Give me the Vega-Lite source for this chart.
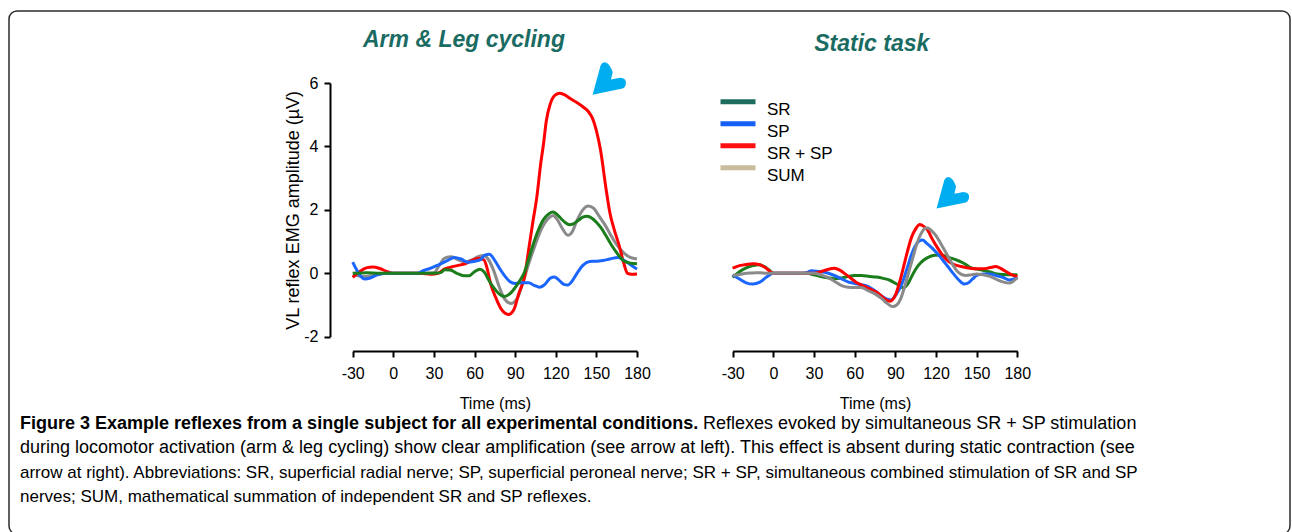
{
  "$schema": "https://vega.github.io/schema/vega-lite/v6.json",
  "width": 1281,
  "height": 523,
  "autosize": {"type": "none"},
  "padding": {"left": 9, "top": 11, "right": 2, "bottom": -2},
  "background": "white",
  "config": {
    "view": {"stroke": "#2b2b2b", "strokeWidth": 1.5, "cornerRadius": 8},
    "axis": {
      "domainColor": "#000", "domainWidth": 2, "tickColor": "#000", "tickWidth": 2, "tickSize": 6,
      "labelColor": "#000", "labelFont": "Liberation Sans", "labelFontSize": 16, "labelPadding": 8,
      "titleFont": "Liberation Sans", "titleFontSize": 16, "titleFontWeight": "normal", "titleColor": "#000",
      "grid": false, "labelFlush": false, "labelOverlap": false, "labelExpr": "'' + datum.value"
    },
    "text": {"font": "Liberation Sans"}
  },
  "datasets": {
    "arm": [
      {"t": -30, "v": -0.05, "s": "SUM"}, {"t": -25, "v": -0.09, "s": "SUM"}, {"t": -20, "v": -0.1, "s": "SUM"}, {"t": -15, "v": -0.07, "s": "SUM"}, {"t": -10, "v": -0.03, "s": "SUM"}, {"t": -5, "v": 0, "s": "SUM"}, {"t": 0, "v": 0, "s": "SUM"}, {"t": 10, "v": 0, "s": "SUM"}, {"t": 20, "v": 0, "s": "SUM"}, {"t": 30, "v": 0.02, "s": "SUM"}, {"t": 34, "v": 0.25, "s": "SUM"}, {"t": 38, "v": 0.48, "s": "SUM"}, {"t": 43, "v": 0.52, "s": "SUM"}, {"t": 48, "v": 0.42, "s": "SUM"}, {"t": 53, "v": 0.36, "s": "SUM"}, {"t": 58, "v": 0.42, "s": "SUM"}, {"t": 63, "v": 0.53, "s": "SUM"}, {"t": 67, "v": 0.56, "s": "SUM"}, {"t": 70, "v": 0.45, "s": "SUM"}, {"t": 74, "v": 0.1, "s": "SUM"}, {"t": 78, "v": -0.4, "s": "SUM"}, {"t": 82, "v": -0.8, "s": "SUM"}, {"t": 87, "v": -0.95, "s": "SUM"}, {"t": 92, "v": -0.75, "s": "SUM"}, {"t": 96, "v": -0.25, "s": "SUM"}, {"t": 100, "v": 0.3, "s": "SUM"}, {"t": 104, "v": 0.8, "s": "SUM"}, {"t": 110, "v": 1.45, "s": "SUM"}, {"t": 115, "v": 1.75, "s": "SUM"}, {"t": 118, "v": 1.82, "s": "SUM"}, {"t": 121, "v": 1.7, "s": "SUM"}, {"t": 125, "v": 1.4, "s": "SUM"}, {"t": 129, "v": 1.2, "s": "SUM"}, {"t": 132, "v": 1.3, "s": "SUM"}, {"t": 136, "v": 1.7, "s": "SUM"}, {"t": 140, "v": 2.0, "s": "SUM"}, {"t": 144, "v": 2.12, "s": "SUM"}, {"t": 148, "v": 2.05, "s": "SUM"}, {"t": 152, "v": 1.8, "s": "SUM"}, {"t": 156, "v": 1.55, "s": "SUM"}, {"t": 160, "v": 1.25, "s": "SUM"}, {"t": 165, "v": 0.9, "s": "SUM"}, {"t": 170, "v": 0.65, "s": "SUM"}, {"t": 175, "v": 0.5, "s": "SUM"}, {"t": 180, "v": 0.45, "s": "SUM"},

      {"t": -30, "v": -0.13, "s": "SR + SP"}, {"t": -25, "v": 0.05, "s": "SR + SP"}, {"t": -20, "v": 0.17, "s": "SR + SP"}, {"t": -15, "v": 0.2, "s": "SR + SP"}, {"t": -10, "v": 0.15, "s": "SR + SP"}, {"t": -5, "v": 0.06, "s": "SR + SP"}, {"t": 0, "v": 0, "s": "SR + SP"}, {"t": 10, "v": 0, "s": "SR + SP"}, {"t": 20, "v": 0, "s": "SR + SP"}, {"t": 28, "v": -0.03, "s": "SR + SP"}, {"t": 33, "v": 0, "s": "SR + SP"}, {"t": 38, "v": 0.14, "s": "SR + SP"}, {"t": 43, "v": 0.2, "s": "SR + SP"}, {"t": 48, "v": 0.25, "s": "SR + SP"}, {"t": 53, "v": 0.3, "s": "SR + SP"}, {"t": 58, "v": 0.4, "s": "SR + SP"}, {"t": 63, "v": 0.47, "s": "SR + SP"}, {"t": 67, "v": 0.42, "s": "SR + SP"}, {"t": 69, "v": 0.2, "s": "SR + SP"}, {"t": 72, "v": -0.35, "s": "SR + SP"}, {"t": 76, "v": -0.8, "s": "SR + SP"}, {"t": 80, "v": -1.15, "s": "SR + SP"}, {"t": 85, "v": -1.3, "s": "SR + SP"}, {"t": 89, "v": -1.15, "s": "SR + SP"}, {"t": 93, "v": -0.6, "s": "SR + SP"}, {"t": 97, "v": -0.1, "s": "SR + SP"}, {"t": 100, "v": 0.75, "s": "SR + SP"}, {"t": 103, "v": 1.6, "s": "SR + SP"}, {"t": 106, "v": 2.4, "s": "SR + SP"}, {"t": 109, "v": 3.5, "s": "SR + SP"}, {"t": 111, "v": 4.1, "s": "SR + SP"}, {"t": 113, "v": 4.8, "s": "SR + SP"}, {"t": 116, "v": 5.35, "s": "SR + SP"}, {"t": 119.5, "v": 5.62, "s": "SR + SP"}, {"t": 123, "v": 5.68, "s": "SR + SP"}, {"t": 127, "v": 5.62, "s": "SR + SP"}, {"t": 131, "v": 5.5, "s": "SR + SP"}, {"t": 135, "v": 5.4, "s": "SR + SP"}, {"t": 140, "v": 5.25, "s": "SR + SP"}, {"t": 144, "v": 5.1, "s": "SR + SP"}, {"t": 147, "v": 4.9, "s": "SR + SP"}, {"t": 150, "v": 4.5, "s": "SR + SP"}, {"t": 153, "v": 3.9, "s": "SR + SP"}, {"t": 157, "v": 2.7, "s": "SR + SP"}, {"t": 160, "v": 1.9, "s": "SR + SP"}, {"t": 163, "v": 1.4, "s": "SR + SP"}, {"t": 167, "v": 0.85, "s": "SR + SP"}, {"t": 170, "v": 0.35, "s": "SR + SP"}, {"t": 173, "v": 0.0, "s": "SR + SP"}, {"t": 176, "v": -0.03, "s": "SR + SP"}, {"t": 180, "v": -0.02, "s": "SR + SP"},

      {"t": -30, "v": 0.35, "s": "SP"}, {"t": -27, "v": 0.1, "s": "SP"}, {"t": -24, "v": -0.1, "s": "SP"}, {"t": -21, "v": -0.18, "s": "SP"}, {"t": -17, "v": -0.15, "s": "SP"}, {"t": -12, "v": -0.05, "s": "SP"}, {"t": -6, "v": 0, "s": "SP"}, {"t": 0, "v": 0, "s": "SP"}, {"t": 10, "v": 0, "s": "SP"}, {"t": 18, "v": 0, "s": "SP"}, {"t": 22, "v": 0.08, "s": "SP"}, {"t": 27, "v": 0.15, "s": "SP"}, {"t": 33, "v": 0.26, "s": "SP"}, {"t": 40, "v": 0.4, "s": "SP"}, {"t": 45, "v": 0.5, "s": "SP"}, {"t": 50, "v": 0.45, "s": "SP"}, {"t": 55, "v": 0.35, "s": "SP"}, {"t": 60, "v": 0.38, "s": "SP"}, {"t": 64, "v": 0.42, "s": "SP"}, {"t": 68, "v": 0.58, "s": "SP"}, {"t": 71, "v": 0.6, "s": "SP"}, {"t": 75, "v": 0.4, "s": "SP"}, {"t": 79, "v": 0.12, "s": "SP"}, {"t": 83, "v": -0.12, "s": "SP"}, {"t": 86, "v": -0.26, "s": "SP"}, {"t": 90, "v": -0.32, "s": "SP"}, {"t": 95, "v": -0.3, "s": "SP"}, {"t": 100, "v": -0.3, "s": "SP"}, {"t": 104, "v": -0.38, "s": "SP"}, {"t": 108, "v": -0.44, "s": "SP"}, {"t": 112, "v": -0.35, "s": "SP"}, {"t": 116, "v": -0.15, "s": "SP"}, {"t": 119, "v": -0.12, "s": "SP"}, {"t": 122, "v": -0.2, "s": "SP"}, {"t": 126, "v": -0.35, "s": "SP"}, {"t": 129, "v": -0.37, "s": "SP"}, {"t": 132, "v": -0.25, "s": "SP"}, {"t": 136, "v": 0.02, "s": "SP"}, {"t": 140, "v": 0.25, "s": "SP"}, {"t": 145, "v": 0.37, "s": "SP"}, {"t": 150, "v": 0.38, "s": "SP"}, {"t": 155, "v": 0.4, "s": "SP"}, {"t": 160, "v": 0.45, "s": "SP"}, {"t": 166, "v": 0.5, "s": "SP"}, {"t": 170, "v": 0.42, "s": "SP"}, {"t": 175, "v": 0.28, "s": "SP"}, {"t": 180, "v": 0.13, "s": "SP"},

      {"t": -30, "v": 0, "s": "SR"}, {"t": -20, "v": 0.02, "s": "SR"}, {"t": -10, "v": 0, "s": "SR"}, {"t": 0, "v": 0, "s": "SR"}, {"t": 10, "v": 0, "s": "SR"}, {"t": 20, "v": 0, "s": "SR"}, {"t": 30, "v": 0, "s": "SR"}, {"t": 35, "v": 0.02, "s": "SR"}, {"t": 38, "v": 0.11, "s": "SR"}, {"t": 42, "v": 0.1, "s": "SR"}, {"t": 47, "v": 0, "s": "SR"}, {"t": 52, "v": -0.08, "s": "SR"}, {"t": 56, "v": -0.08, "s": "SR"}, {"t": 60, "v": 0.05, "s": "SR"}, {"t": 64, "v": 0.13, "s": "SR"}, {"t": 67, "v": 0.05, "s": "SR"}, {"t": 71, "v": -0.25, "s": "SR"}, {"t": 75, "v": -0.5, "s": "SR"}, {"t": 79, "v": -0.68, "s": "SR"}, {"t": 82, "v": -0.73, "s": "SR"}, {"t": 86, "v": -0.65, "s": "SR"}, {"t": 90, "v": -0.45, "s": "SR"}, {"t": 94, "v": -0.2, "s": "SR"}, {"t": 97, "v": 0.05, "s": "SR"}, {"t": 100, "v": 0.45, "s": "SR"}, {"t": 103, "v": 0.87, "s": "SR"}, {"t": 107, "v": 1.35, "s": "SR"}, {"t": 111, "v": 1.7, "s": "SR"}, {"t": 115, "v": 1.88, "s": "SR"}, {"t": 118, "v": 1.93, "s": "SR"}, {"t": 121, "v": 1.85, "s": "SR"}, {"t": 124, "v": 1.72, "s": "SR"}, {"t": 127, "v": 1.6, "s": "SR"}, {"t": 130, "v": 1.53, "s": "SR"}, {"t": 133, "v": 1.56, "s": "SR"}, {"t": 137, "v": 1.68, "s": "SR"}, {"t": 140, "v": 1.77, "s": "SR"}, {"t": 143, "v": 1.8, "s": "SR"}, {"t": 147, "v": 1.73, "s": "SR"}, {"t": 150, "v": 1.61, "s": "SR"}, {"t": 154, "v": 1.4, "s": "SR"}, {"t": 157, "v": 1.19, "s": "SR"}, {"t": 161, "v": 0.9, "s": "SR"}, {"t": 165, "v": 0.65, "s": "SR"}, {"t": 170, "v": 0.4, "s": "SR"}, {"t": 175, "v": 0.32, "s": "SR"}, {"t": 180, "v": 0.3, "s": "SR"}
    ],
    "static": [
      {"t": -30, "v": -0.13, "s": "SR"}, {"t": -25, "v": 0.05, "s": "SR"}, {"t": -20, "v": 0.17, "s": "SR"}, {"t": -15, "v": 0.24, "s": "SR"}, {"t": -11, "v": 0.27, "s": "SR"}, {"t": -7, "v": 0.22, "s": "SR"}, {"t": -3, "v": 0.1, "s": "SR"}, {"t": 0, "v": 0, "s": "SR"}, {"t": 10, "v": 0, "s": "SR"}, {"t": 20, "v": 0, "s": "SR"}, {"t": 25, "v": 0, "s": "SR"}, {"t": 30, "v": -0.05, "s": "SR"}, {"t": 35, "v": -0.1, "s": "SR"}, {"t": 40, "v": -0.14, "s": "SR"}, {"t": 45, "v": -0.17, "s": "SR"}, {"t": 50, "v": -0.15, "s": "SR"}, {"t": 55, "v": -0.1, "s": "SR"}, {"t": 60, "v": -0.07, "s": "SR"}, {"t": 65, "v": -0.07, "s": "SR"}, {"t": 71, "v": -0.1, "s": "SR"}, {"t": 76, "v": -0.12, "s": "SR"}, {"t": 81, "v": -0.16, "s": "SR"}, {"t": 86, "v": -0.22, "s": "SR"}, {"t": 91, "v": -0.34, "s": "SR"}, {"t": 96, "v": -0.46, "s": "SR"}, {"t": 99, "v": -0.35, "s": "SR"}, {"t": 103, "v": -0.02, "s": "SR"}, {"t": 107, "v": 0.25, "s": "SR"}, {"t": 111, "v": 0.42, "s": "SR"}, {"t": 115, "v": 0.52, "s": "SR"}, {"t": 119, "v": 0.57, "s": "SR"}, {"t": 123, "v": 0.58, "s": "SR"}, {"t": 127, "v": 0.54, "s": "SR"}, {"t": 131, "v": 0.48, "s": "SR"}, {"t": 135, "v": 0.42, "s": "SR"}, {"t": 138, "v": 0.37, "s": "SR"}, {"t": 142, "v": 0.28, "s": "SR"}, {"t": 145, "v": 0.19, "s": "SR"}, {"t": 150, "v": 0.13, "s": "SR"}, {"t": 155, "v": 0.09, "s": "SR"}, {"t": 160, "v": 0.04, "s": "SR"}, {"t": 165, "v": -0.02, "s": "SR"}, {"t": 170, "v": -0.04, "s": "SR"}, {"t": 175, "v": -0.05, "s": "SR"}, {"t": 180, "v": -0.05, "s": "SR"},

      {"t": -30, "v": -0.05, "s": "SP"}, {"t": -25, "v": -0.18, "s": "SP"}, {"t": -20, "v": -0.3, "s": "SP"}, {"t": -15, "v": -0.34, "s": "SP"}, {"t": -10, "v": -0.28, "s": "SP"}, {"t": -5, "v": -0.12, "s": "SP"}, {"t": 0, "v": 0, "s": "SP"}, {"t": 10, "v": 0, "s": "SP"}, {"t": 20, "v": 0, "s": "SP"}, {"t": 25, "v": 0.03, "s": "SP"}, {"t": 28, "v": 0.08, "s": "SP"}, {"t": 33, "v": 0.06, "s": "SP"}, {"t": 38, "v": 0.03, "s": "SP"}, {"t": 45, "v": -0.07, "s": "SP"}, {"t": 50, "v": -0.17, "s": "SP"}, {"t": 55, "v": -0.27, "s": "SP"}, {"t": 60, "v": -0.32, "s": "SP"}, {"t": 65, "v": -0.36, "s": "SP"}, {"t": 70, "v": -0.42, "s": "SP"}, {"t": 75, "v": -0.55, "s": "SP"}, {"t": 80, "v": -0.72, "s": "SP"}, {"t": 84, "v": -0.82, "s": "SP"}, {"t": 87, "v": -0.84, "s": "SP"}, {"t": 90, "v": -0.7, "s": "SP"}, {"t": 93, "v": -0.5, "s": "SP"}, {"t": 96, "v": -0.2, "s": "SP"}, {"t": 99, "v": 0.2, "s": "SP"}, {"t": 102, "v": 0.6, "s": "SP"}, {"t": 105, "v": 0.88, "s": "SP"}, {"t": 108, "v": 1.03, "s": "SP"}, {"t": 110, "v": 1.05, "s": "SP"}, {"t": 113, "v": 0.95, "s": "SP"}, {"t": 117, "v": 0.8, "s": "SP"}, {"t": 121, "v": 0.62, "s": "SP"}, {"t": 125, "v": 0.42, "s": "SP"}, {"t": 129, "v": 0.2, "s": "SP"}, {"t": 133, "v": -0.02, "s": "SP"}, {"t": 137, "v": -0.22, "s": "SP"}, {"t": 141, "v": -0.34, "s": "SP"}, {"t": 144, "v": -0.3, "s": "SP"}, {"t": 147, "v": -0.18, "s": "SP"}, {"t": 150, "v": -0.07, "s": "SP"}, {"t": 155, "v": -0.02, "s": "SP"}, {"t": 160, "v": -0.02, "s": "SP"}, {"t": 165, "v": -0.08, "s": "SP"}, {"t": 170, "v": -0.14, "s": "SP"}, {"t": 174, "v": -0.21, "s": "SP"}, {"t": 177, "v": -0.19, "s": "SP"}, {"t": 180, "v": -0.13, "s": "SP"},

      {"t": -30, "v": 0.16, "s": "SR + SP"}, {"t": -25, "v": 0.24, "s": "SR + SP"}, {"t": -20, "v": 0.28, "s": "SR + SP"}, {"t": -15, "v": 0.3, "s": "SR + SP"}, {"t": -10, "v": 0.27, "s": "SR + SP"}, {"t": -5, "v": 0.15, "s": "SR + SP"}, {"t": -2, "v": 0.04, "s": "SR + SP"}, {"t": 0, "v": 0, "s": "SR + SP"}, {"t": 10, "v": 0, "s": "SR + SP"}, {"t": 20, "v": 0, "s": "SR + SP"}, {"t": 30, "v": 0, "s": "SR + SP"}, {"t": 35, "v": 0.05, "s": "SR + SP"}, {"t": 40, "v": 0.12, "s": "SR + SP"}, {"t": 45, "v": 0.16, "s": "SR + SP"}, {"t": 49, "v": 0.1, "s": "SR + SP"}, {"t": 53, "v": -0.02, "s": "SR + SP"}, {"t": 57, "v": -0.15, "s": "SR + SP"}, {"t": 61, "v": -0.28, "s": "SR + SP"}, {"t": 65, "v": -0.37, "s": "SR + SP"}, {"t": 69, "v": -0.45, "s": "SR + SP"}, {"t": 74, "v": -0.55, "s": "SR + SP"}, {"t": 78, "v": -0.65, "s": "SR + SP"}, {"t": 82, "v": -0.8, "s": "SR + SP"}, {"t": 86, "v": -0.88, "s": "SR + SP"}, {"t": 90, "v": -0.7, "s": "SR + SP"}, {"t": 93, "v": -0.3, "s": "SR + SP"}, {"t": 96, "v": 0.19, "s": "SR + SP"}, {"t": 99, "v": 0.7, "s": "SR + SP"}, {"t": 102, "v": 1.14, "s": "SR + SP"}, {"t": 105, "v": 1.4, "s": "SR + SP"}, {"t": 108, "v": 1.54, "s": "SR + SP"}, {"t": 111, "v": 1.48, "s": "SR + SP"}, {"t": 114, "v": 1.35, "s": "SR + SP"}, {"t": 117, "v": 1.1, "s": "SR + SP"}, {"t": 120, "v": 0.88, "s": "SR + SP"}, {"t": 124, "v": 0.62, "s": "SR + SP"}, {"t": 128, "v": 0.42, "s": "SR + SP"}, {"t": 132, "v": 0.3, "s": "SR + SP"}, {"t": 136, "v": 0.24, "s": "SR + SP"}, {"t": 140, "v": 0.2, "s": "SR + SP"}, {"t": 145, "v": 0.16, "s": "SR + SP"}, {"t": 150, "v": 0.14, "s": "SR + SP"}, {"t": 155, "v": 0.14, "s": "SR + SP"}, {"t": 160, "v": 0.18, "s": "SR + SP"}, {"t": 164, "v": 0.21, "s": "SR + SP"}, {"t": 167, "v": 0.17, "s": "SR + SP"}, {"t": 171, "v": 0.07, "s": "SR + SP"}, {"t": 176, "v": -0.05, "s": "SR + SP"}, {"t": 180, "v": -0.1, "s": "SR + SP"},

      {"t": -30, "v": -0.07, "s": "SUM"}, {"t": -25, "v": -0.04, "s": "SUM"}, {"t": -20, "v": 0, "s": "SUM"}, {"t": -15, "v": 0.01, "s": "SUM"}, {"t": -10, "v": 0.02, "s": "SUM"}, {"t": -5, "v": 0, "s": "SUM"}, {"t": 0, "v": 0, "s": "SUM"}, {"t": 10, "v": 0, "s": "SUM"}, {"t": 20, "v": 0, "s": "SUM"}, {"t": 30, "v": 0, "s": "SUM"}, {"t": 35, "v": -0.05, "s": "SUM"}, {"t": 40, "v": -0.13, "s": "SUM"}, {"t": 45, "v": -0.25, "s": "SUM"}, {"t": 50, "v": -0.38, "s": "SUM"}, {"t": 55, "v": -0.44, "s": "SUM"}, {"t": 60, "v": -0.45, "s": "SUM"}, {"t": 65, "v": -0.45, "s": "SUM"}, {"t": 70, "v": -0.55, "s": "SUM"}, {"t": 75, "v": -0.65, "s": "SUM"}, {"t": 80, "v": -0.8, "s": "SUM"}, {"t": 84, "v": -0.95, "s": "SUM"}, {"t": 88, "v": -1.05, "s": "SUM"}, {"t": 91, "v": -1.0, "s": "SUM"}, {"t": 94, "v": -0.8, "s": "SUM"}, {"t": 97, "v": -0.4, "s": "SUM"}, {"t": 100, "v": 0.05, "s": "SUM"}, {"t": 103, "v": 0.5, "s": "SUM"}, {"t": 106, "v": 0.95, "s": "SUM"}, {"t": 109, "v": 1.25, "s": "SUM"}, {"t": 112, "v": 1.42, "s": "SUM"}, {"t": 114, "v": 1.43, "s": "SUM"}, {"t": 117, "v": 1.33, "s": "SUM"}, {"t": 120, "v": 1.19, "s": "SUM"}, {"t": 124, "v": 0.9, "s": "SUM"}, {"t": 128, "v": 0.6, "s": "SUM"}, {"t": 132, "v": 0.3, "s": "SUM"}, {"t": 135, "v": 0.1, "s": "SUM"}, {"t": 138, "v": -0.02, "s": "SUM"}, {"t": 142, "v": -0.07, "s": "SUM"}, {"t": 146, "v": -0.05, "s": "SUM"}, {"t": 150, "v": -0.02, "s": "SUM"}, {"t": 155, "v": -0.05, "s": "SUM"}, {"t": 160, "v": -0.1, "s": "SUM"}, {"t": 165, "v": -0.2, "s": "SUM"}, {"t": 170, "v": -0.28, "s": "SUM"}, {"t": 174, "v": -0.31, "s": "SUM"}, {"t": 177, "v": -0.25, "s": "SUM"}, {"t": 180, "v": -0.14, "s": "SUM"}
    ],
    "caption": [
      {"line": 1, "part": "bold", "text": "Figure 3 Example reflexes from a single subject for all experimental conditions."},
      {"line": 1, "part": "lead", "text": "Reflexes evoked by simultaneous SR + SP stimulation"},
      {"line": 2, "part": "body", "text": "during locomotor activation (arm & leg cycling) show clear amplification (see arrow at left). This effect is absent during static contraction (see"},
      {"line": 3, "part": "body", "text": "arrow at right). Abbreviations: SR, superficial radial nerve; SP, superficial peroneal nerve; SR + SP, simultaneous combined stimulation of SR and SP"},
      {"line": 4, "part": "body", "text": "nerves; SUM, mathematical summation of independent SR and SP reflexes."}
    ],
    "titles": [
      {"panel": "arm", "label": "Arm & Leg cycling"},
      {"panel": "static", "label": "Static task"}
    ]
  },
  "layer": [
    {
      "data": {"name": "arm"},
      "mark": {"type": "line", "strokeWidth": 3, "interpolate": "monotone"},
      "encoding": {
        "x": {"field": "t", "type": "quantitative", "scale": {"domain": [-30, 180], "range": [343.7, 628], "nice": false, "zero": false},
              "axis": {"values": [-30, 0, 30, 60, 90, 120, 150, 180], "title": "Time (ms)", "offset": -183, "titlePadding": 14}},
        "y": {"field": "v", "type": "quantitative", "scale": {"domain": [-2, 6], "range": [325.7, 72], "nice": false, "zero": false},
              "axis": {"values": [-2, 0, 2, 4, 6], "title": "VL reflex EMG amplitude (µV)", "titleFontSize": 18, "offset": -321, "titlePadding": 1, "labelPadding": 6}},
        "stroke": {"field": "s", "type": "nominal", "sort": null,
                   "scale": {"domain": ["SUM", "SR + SP", "SP", "SR"], "range": ["#8a8a8a", "#ff0000", "#1a66ff", "#1b7d1b"]},
                   "legend": null}
      }
    },
    {
      "data": {"name": "static"},
      "mark": {"type": "line", "strokeWidth": 1.5, "interpolate": "monotone"},
      "encoding": {
        "x": {"field": "t", "type": "quantitative", "scale": {"domain": [-30, 180], "range": [723.7, 1008.3], "nice": false, "zero": false}, "axis": null},
        "y": {"field": "v", "type": "quantitative", "scale": {"domain": [-2, 6], "range": [325.7, 72], "nice": false, "zero": false}, "axis": null},
        "color": {"field": "s", "type": "nominal", "sort": null,
                  "scale": {"domain": ["SR", "SP", "SR + SP", "SUM"], "range": ["#1e6b5f", "#1660f5", "#ff1010", "#c9bc9c"]},
                  "legend": {"title": null, "orient": "none", "legendX": 709, "legendY": 85.2, "symbolType": "stroke", "symbolSize": 1225, "symbolStrokeWidth": 5, "clipHeight": 11, "rowPadding": 0, "padding": 0, "labelFont": "Liberation Sans", "labelFontSize": 17, "labelColor": "#000", "labelBaseline": "top", "labelOffset": 9}}
      }
    },
    {
      "data": {"name": "static"},
      "mark": {"type": "line", "strokeWidth": 3, "interpolate": "monotone"},
      "encoding": {
        "x": {"field": "t", "type": "quantitative", "scale": {"domain": [-30, 180], "range": [723.7, 1008.3], "nice": false, "zero": false},
              "axis": {"orient": "bottom", "values": [-30, 0, 30, 60, 90, 120, 150, 180], "title": "Time (ms)", "offset": -183, "titlePadding": 14}},
        "y": {"field": "v", "type": "quantitative", "scale": {"domain": [-2, 6], "range": [325.7, 72], "nice": false, "zero": false}, "axis": null},
        "stroke": {"field": "s", "type": "nominal", "sort": null, "legend": null}
      }
    },
    {
      "data": {"name": "titles"},
      "transform": [{"filter": "datum.panel == 'arm'"}],
      "mark": {"type": "text", "fontSize": 23, "fontWeight": "bold", "fontStyle": "italic", "color": "#1a6b62", "align": "center", "baseline": "alphabetic"},
      "encoding": {
        "x": {"datum": 52.2, "type": "quantitative", "scale": {"domain": [-30, 180], "range": [343.7, 628], "nice": false, "zero": false}, "axis": null},
        "y": {"datum": 7.15, "type": "quantitative", "scale": {"domain": [-2, 6], "range": [325.7, 72], "nice": false, "zero": false}, "axis": null},
        "text": {"field": "label"}
      }
    },
    {
      "data": {"name": "titles"},
      "transform": [{"filter": "datum.panel == 'static'"}],
      "mark": {"type": "text", "fontSize": 23, "fontWeight": "bold", "fontStyle": "italic", "color": "#1a6b62", "align": "center", "baseline": "alphabetic"},
      "encoding": {
        "x": {"datum": 72.6, "type": "quantitative", "scale": {"domain": [-30, 180], "range": [723.7, 1008.3], "nice": false, "zero": false}, "axis": null},
        "y": {"datum": 7.0, "type": "quantitative", "scale": {"domain": [-2, 6], "range": [325.7, 72], "nice": false, "zero": false}, "axis": null},
        "text": {"field": "label"}
      }
    },
    {
      "data": {"name": "titles"},
      "transform": [{"filter": "datum.panel == 'arm'"}],
      "mark": {"type": "point", "shape": "M -0.94 0.88 L -0.47 -0.84 Q -0.35 -1.1 -0.12 -1.0 Q 0.08 -0.9 0.24 -0.45 L 0.14 -0.02 L 0.67 -0.12 Q 1.05 -0.1 1.02 0.2 Q 1.0 0.45 0.82 0.51 Z", "size": 1156, "filled": true, "color": "#00aeef", "opacity": 1, "strokeWidth": 0},
      "encoding": {
        "x": {"datum": 159, "type": "quantitative", "scale": {"domain": [-30, 180], "range": [343.7, 628], "nice": false, "zero": false}, "axis": null},
        "y": {"datum": 6.1, "type": "quantitative", "scale": {"domain": [-2, 6], "range": [325.7, 72], "nice": false, "zero": false}, "axis": null}
      }
    },
    {
      "data": {"name": "titles"},
      "transform": [{"filter": "datum.panel == 'static'"}],
      "mark": {"type": "point", "shape": "M -0.94 0.88 L -0.47 -0.84 Q -0.35 -1.1 -0.12 -1.0 Q 0.08 -0.9 0.24 -0.45 L 0.14 -0.02 L 0.67 -0.12 Q 1.05 -0.1 1.02 0.2 Q 1.0 0.45 0.82 0.51 Z", "size": 1100, "filled": true, "color": "#00aeef", "opacity": 1, "strokeWidth": 0},
      "encoding": {
        "x": {"datum": 131.9, "type": "quantitative", "scale": {"domain": [-30, 180], "range": [723.7, 1008.3], "nice": false, "zero": false}, "axis": null},
        "y": {"datum": 2.5, "type": "quantitative", "scale": {"domain": [-2, 6], "range": [325.7, 72], "nice": false, "zero": false}, "axis": null}
      }
    },
    {
      "data": {"name": "caption"},
      "transform": [{"filter": "datum.part == 'bold'"}],
      "mark": {"type": "text", "align": "left", "baseline": "alphabetic", "font": "Liberation Sans", "fontSize": 18, "fontWeight": "bold", "color": "#000"},
      "encoding": {
        "x": {"datum": 0, "type": "quantitative", "scale": {"domain": [0, 1], "range": [11, 1270], "nice": false, "zero": false}, "axis": null},
        "y": {"field": "line", "type": "quantitative", "scale": {"domain": [1, 4], "range": [418, 491], "nice": false, "zero": false}, "axis": null},
        "text": {"field": "text"}
      }
    },
    {
      "data": {"name": "caption"},
      "transform": [{"filter": "datum.part == 'lead'"}],
      "mark": {"type": "text", "align": "left", "baseline": "alphabetic", "font": "Liberation Sans", "fontSize": 18, "color": "#000", "dx": 683},
      "encoding": {
        "x": {"datum": 0, "type": "quantitative", "scale": {"domain": [0, 1], "range": [11, 1270], "nice": false, "zero": false}, "axis": null},
        "y": {"field": "line", "type": "quantitative", "scale": {"domain": [1, 4], "range": [418, 491], "nice": false, "zero": false}, "axis": null},
        "text": {"field": "text"}
      }
    },
    {
      "data": {"name": "caption"},
      "transform": [{"filter": "datum.part == 'body' && datum.line == 2"}],
      "mark": {"type": "text", "align": "left", "baseline": "alphabetic", "font": "Liberation Sans", "fontSize": 18, "color": "#000"},
      "encoding": {
        "x": {"datum": 0, "type": "quantitative", "scale": {"domain": [0, 1], "range": [11, 1270], "nice": false, "zero": false}, "axis": null},
        "y": {"field": "line", "type": "quantitative", "scale": {"domain": [1, 4], "range": [418, 491], "nice": false, "zero": false}, "axis": null},
        "text": {"field": "text"}
      }
    },
    {
      "data": {"name": "caption"},
      "transform": [{"filter": "datum.part == 'body' && datum.line > 2"}],
      "mark": {"type": "text", "align": "left", "baseline": "alphabetic", "font": "Liberation Sans", "fontSize": 17, "color": "#000"},
      "encoding": {
        "x": {"datum": 0, "type": "quantitative", "scale": {"domain": [0, 1], "range": [11, 1270], "nice": false, "zero": false}, "axis": null},
        "y": {"field": "line", "type": "quantitative", "scale": {"domain": [1, 4], "range": [418, 491], "nice": false, "zero": false}, "axis": null},
        "text": {"field": "text"}
      }
    }
  ],
  "resolve": {"scale": {"x": "independent", "y": "independent"}, "axis": {"x": "independent", "y": "independent"}}
}
